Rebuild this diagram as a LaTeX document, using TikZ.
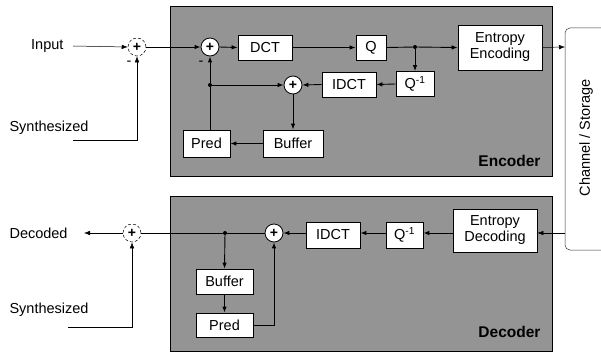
\documentclass[tikz,border=0pt]{standalone}
\usepackage{fontspec}
\setmainfont{Liberation Sans}
\usetikzlibrary{arrows.meta,calc}
\begin{document}
\begin{tikzpicture}[x=1pt,y=-1pt,
  every node/.style={font=\fontsize{14.5}{16}\selectfont},
  blk/.style={draw=black, line width=0.8pt, fill=white, inner sep=0pt},
  sumnode/.style={circle, draw=black, line width=0.8pt, fill=white, minimum size=18pt, inner sep=0pt, font=\fontsize{14}{14}\selectfont\bfseries},
  outsum/.style={sumnode, line width=0.5pt, densely dashed},
  panel/.style={draw=black, line width=0.8pt, fill=black!42},
  arr/.style={-{Latex[length=6pt,width=4.5pt]}, line width=0.9pt},
  ln/.style={line width=0.9pt},
  oarr/.style={-{Latex[length=6pt,width=4.5pt]}, line width=0.5pt},
  oln/.style={line width=0.5pt},
  jdot/.style={circle, fill=black, inner sep=0pt, minimum size=4pt}
]
\useasboundingbox (0,0) rectangle (601,353);

% panels
\draw[panel] (170,6) rectangle (552,176);
\draw[panel] (170,196) rectangle (552,351);
\node[font=\fontsize{15.5}{16}\selectfont\bfseries, anchor=south east] (enclbl) at (544,170) {Encoder};
\node[font=\fontsize{15.5}{16}\selectfont\bfseries, anchor=south east] (declbl) at (544,341) {Decoder};

% channel / storage
\draw[line width=0.5pt, rounded corners=5pt, black!80] (605,28) -- (565,28) -- (565,250) -- (605,250);
\node[rotate=90] (chan) at (586,138) {Channel / Storage};
\coordinate (chanE) at (565,47);
\coordinate (chanD) at (565,233);

% ---------- Encoder ----------
\node[anchor=east] (inp) at (67,46) {Input};
\node[anchor=west] (syn1) at (6,128) {Synthesized};
\coordinate (syn1s) at (73,140);
\node[outsum] (s1) at (137,47) {+};
\node (m1) at (129,63) {-};
\node[sumnode] (s2) at (210,47) {+};
\node (m2) at (201,63) {-};
\node[blk, minimum width=54pt, minimum height=25pt] (dct) at (265,47.5) {DCT};
\node[blk, minimum width=30pt, minimum height=25pt] (q) at (371,47.5) {Q};
\node[jdot] (j1) at (415,47) {};
\node[blk, minimum width=84pt, minimum height=45pt, align=center] (ee) at (500,47.5) {Entropy\\Encoding};
\node[blk, minimum width=38pt, minimum height=25pt] (qi) at (415,84) {Q\textsuperscript{-1}};
\node[blk, minimum width=54pt, minimum height=25pt] (idct) at (349,84.5) {IDCT};
\node[sumnode] (s3) at (293,85) {+};
\node[jdot] (j2) at (210,85) {};
\node[blk, minimum width=47pt, minimum height=27pt] (pred) at (206.5,143.5) {Pred};
\node[blk, minimum width=60pt, minimum height=27pt] (buf) at (293,143.5) {Buffer};

\draw[oarr] (inp.east) ++(6,0) -- (s1.west);
\draw[oarr] (syn1s) -| (s1.south);
\draw[oln] (s1.east) -- (170,47);
\draw[arr] (170,47) -- (s2.west);
\draw[arr] (s2.east) -- (dct.west);
\draw[arr] (dct.east) -- (q.west);
\draw[ln] (q.east) -- (j1);
\draw[arr] (j1) -- (ee.west);
\draw[arr] (j1) -- (qi.north);
\draw[arr] (qi.west) -- (idct.east);
\draw[arr] (idct.west) -- (s3.east);
\draw[arr] (j2) -- (s3.west);
\draw[arr] (s3.south) -- (buf.north);
\draw[arr] (buf.west) -- (pred.east);
\draw[arr] (pred.north -| s2) -- (j2) -- (s2.south);
\draw[oarr] (ee.east) -- (chanE);

% ---------- Decoder ----------
\node[anchor=west] (decd) at (6,233) {Decoded};
\coordinate (dout) at (84,233);
\node[anchor=west] (syn2) at (6,310) {Synthesized};
\coordinate (syn2s) at (68,327);
\node[outsum] (d1) at (132,233) {+};
\node[sumnode] (d2) at (274,233) {+};
\node[jdot] (jd) at (225,233) {};
\node[blk, minimum width=57pt, minimum height=25pt] (dbuf) at (224.5,281.5) {Buffer};
\node[blk, minimum width=57pt, minimum height=24pt] (dpred) at (224.5,325) {Pred};
\node[blk, minimum width=54pt, minimum height=26pt] (didct) at (333,235) {IDCT};
\node[blk, minimum width=37pt, minimum height=26pt] (dqi) at (404.5,235) {Q\textsuperscript{-1}};
\node[blk, minimum width=84pt, minimum height=43pt, align=center] (ed) at (495,230.5) {Entropy\\Decoding};

\draw[oarr] (d1.west) -- (dout);
\draw[oarr] (syn2s) -| (d1.south);
\draw[ln] (d2.west) -- (jd);
\draw[ln] (jd) -- (170,233);
\draw[oln] (170,233) -- (d1.east);
\draw[arr] (jd) -- (dbuf.north);
\draw[arr] (dbuf.south) -- (dpred.north);
\draw[arr] (dpred.east |- 0,325) -| (d2.south);
\draw[arr] (didct.west |- d2) -- (d2.east);
\draw[arr] (dqi.west |- d2) -- (didct.east |- d2);
\draw[arr] (ed.west |- d2) -- (dqi.east |- d2);
\draw[oarr] (chanD) -- (ed.east |- d2);
\end{tikzpicture}
\end{document}
